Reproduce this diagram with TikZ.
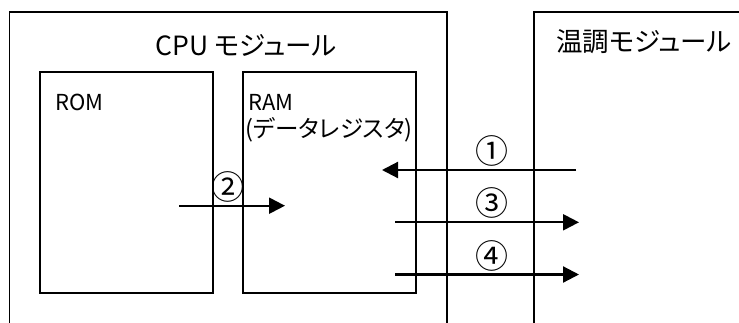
\documentclass[tikz,border=0pt]{standalone}
\usepackage{fontspec}
\setmainfont{Noto Sans CJK JP}[RawFeature=+palt]
\newfontfamily\circfont{Noto Sans CJK JP}
\usetikzlibrary{arrows.meta}
\tikzset{
  box/.style={draw=black, line width=1.7pt, rectangle, inner sep=0pt},
  lbl/.style={inner sep=0pt, font=\fontsize{22pt}{26pt}\selectfont},
  sub/.style={inner sep=0pt, font=\fontsize{23.5pt}{27pt}\selectfont},
  ttl/.style={inner sep=0pt, font=\fontsize{26.5pt}{30pt}\selectfont},
  num/.style={inner sep=0pt, font=\circfont\fontsize{33pt}{36pt}\selectfont},
  flow/.style={line width=2.2pt, -{Triangle[length=16pt,width=16pt]}}
}
\begin{document}
\begin{tikzpicture}[x=1pt,y=-1pt]
\useasboundingbox (0,0) rectangle (739,322);
\clip (0,0) rectangle (739,322);
\fill[white] (0,0) rectangle (739,322);
% modules
\node[box, minimum width=437.3pt, minimum height=328pt] (cpu) at (228.05,175.7) {};
\node[box, minimum width=230pt, minimum height=328pt] (tmp) at (649,175.7) {};
\node[box, minimum width=173pt, minimum height=220.4pt] (rom) at (126.5,182.5) {};
\node[box, minimum width=173.3pt, minimum height=220.4pt] (ram) at (329.35,182.5) {};
% titles
\node[ttl] (cputtl) at (246,45) {CPU モジュール};
\node[ttl] (tmpttl) at (644,42) {温調モジュール};
\node[lbl, anchor=base west] (romlbl) at (55.5,110.7) {ROM};
\node[lbl, anchor=base west] (ramlbl) at (248.5,110.7) {RAM};
\node[sub, anchor=base west] (ramsub) at (245.5,137.5) {(データレジスタ)};
% numbers
\node[num] (n1) at (491.5,150.5) {①};
\node[num] (n2) at (228,186.5) {②};
\node[num] (n3) at (491.5,202.5) {③};
\node[num] (n4) at (491.5,255.5) {④};
% arrow ends
\coordinate (a1s) at (576,170);
\coordinate (a1e) at (382,170);
\coordinate (a2s) at (179,205.7);
\coordinate (a2e) at (285,205.7);
\coordinate (a3s) at (395,222.3);
\coordinate (a3e) at (579,222.3);
\coordinate (a4s) at (395,274.5);
\coordinate (a4e) at (579,274.5);
\draw[flow] (a1s) -- (a1e);
\draw[flow] (a2s) -- (a2e);
\draw[flow] (a3s) -- (a3e);
\draw[flow] (a4s) -- (a4e);
\end{tikzpicture}
\end{document}
